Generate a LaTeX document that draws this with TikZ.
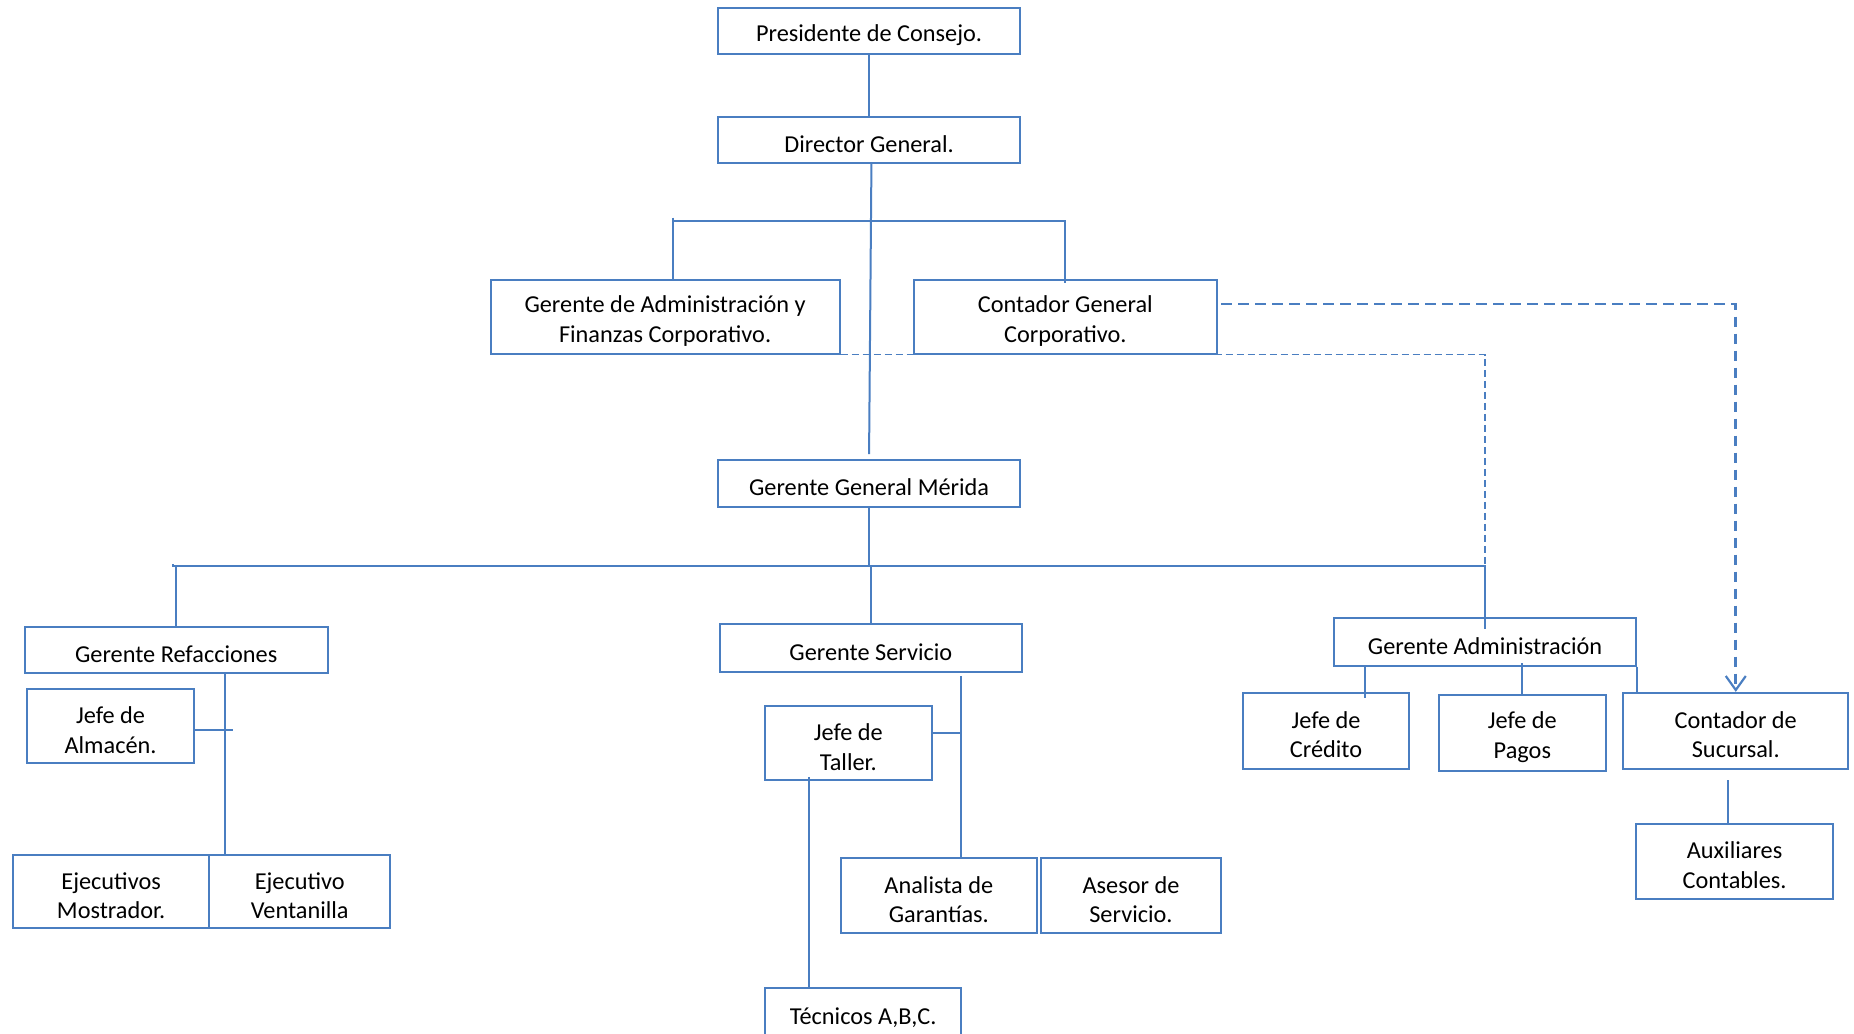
\documentclass[tikz,border=0pt]{standalone}
\usepackage{fontspec}
\setmainfont{Carlito}
\usetikzlibrary{arrows.meta,calc}
\definecolor{orgblue}{RGB}{74,126,193}
% box given by its corners (x1,y1)-(x2,y2); its text sits a little below the middle
\newcommand\orgbox[6]{\node[orgnode, minimum width={(#4-#2)*1.1824pt}, minimum height={(#5-#3)*1.1824pt},
  label={[orgtext]center:#6}] (#1) at ({(#2+#4)/2},{(#3+#5)/2}) {};}
\begin{document}
\begin{tikzpicture}[x=1.1824pt, y=-1.1824pt,
  orgnode/.style={draw=orgblue, line width=2pt, inner sep=0pt},
  orgtext/.style={align=center, inner sep=0pt, yshift=-4pt,
    font=\fontsize{24.3}{29.5}\selectfont},
  link/.style={draw=orgblue, line width=2pt},
  thinlink/.style={draw=orgblue, line width=1.5pt, dash pattern=on 7pt off 4pt},
  thicklink/.style={draw=orgblue, line width=2.6pt, dash pattern=on 10.5pt off 6.5pt}]
\useasboundingbox (0,0) rectangle (1568,874);
\clip (0,0) rectangle (1568,874);

% boxes
\orgbox{pres}{607}{7}{863}{46}{Presidente de Consejo.}
\orgbox{dir}{607}{99}{863}{138}{Director General.}
\orgbox{afc}{415}{237}{710}{299}{Gerente de Administración y\\Finanzas Corporativo.}
\orgbox{cgc}{773}{237}{1029}{299}{Contador General\\Corporativo.}
\orgbox{ggm}{607}{389}{863}{429}{Gerente General Mérida}
\orgbox{grf}{21}{530}{277}{569}{Gerente Refacciones}
\orgbox{alm}{23}{583}{164}{645}{Jefe de\\Almacén.}
\orgbox{emo}{11}{723}{177}{785}{Ejecutivos\\Mostrador.}
\orgbox{eve}{177}{723}{330}{785}{Ejecutivo\\Ventanilla}
\orgbox{gse}{609}{528}{864}{568}{Gerente Servicio}
\orgbox{tal}{647}{597}{788}{660}{Jefe de\\Taller.}
\orgbox{tec}{647}{836}{813}{878}{Técnicos A,B,C.}
\orgbox{ana}{711}{726}{877}{789}{Analista de\\Garantías.}
\orgbox{ase}{880}{726}{1033}{789}{Asesor de\\Servicio.}
\orgbox{gad}{1128}{523}{1384}{563}{Gerente Administración}
\orgbox{cre}{1051}{586}{1192}{650}{Jefe de\\Crédito}
\orgbox{pag}{1217}{588}{1358}{652}{Jefe de\\Pagos}
\orgbox{csu}{1373}{586}{1563}{650}{Contador de\\Sucursal.}
\orgbox{aux}{1384}{697}{1550}{760}{Auxiliares\\Contables.}

% junction points
\coordinate (barA) at (569,187);
\coordinate (barB) at (146,479);
\coordinate (refV) at (190,569);
\coordinate (serV) at (813,572);
\coordinate (cgcR) at (1033,257);

% upper levels
\draw[link] (pres.south) -- (dir.north);
\draw[link] ($(dir.south)+(2,0)$) -- ($(ggm.north)+(0,-4)$);
\draw[link] ($(barA)+(0,-3)$) -- (barA) -- (barA -| cgc.north) -- ($(cgc.north)+(0,3)$);
\draw[link] (barA) -- (barA |- afc.north);

% dashed reporting lines
\draw[thinlink] (afc.south east) -- (gad.north |- afc.south) -- (gad.north |- barB);
\draw[thicklink, -{Straight Barb[length=14pt,width=20pt,line width=2.2pt]}]
  (cgcR) -- (cgcR -| csu.north) -- (csu.north);

% Gerente General Mérida and its three areas
\draw[link] (ggm.south) -- (ggm.south |- barB);
\draw[link] ($(barB)+(0,-2)$) -- (barB) -- (barB -| gad.north) -- ($(gad.north)+(0,10)$);
\draw[link] (barB -| grf.north) -- (grf.north);
\draw[link] (barB -| gse.north) -- (gse.north);

% Refacciones
\draw[link] (refV) -- (refV |- eve.north);
\draw[link] ($(alm.east)+(0,3)$) -- ($(alm.east)+(32,3)$);

% Servicio
\draw[link] (serV) -- (serV |- ana.north);
\draw[link] ($(tal.east)+(0,-8.5)$) -- ($(tal.east)+(25,-8.5)$);
\draw[link] (684,657) -- (684,0 |- tec.north);

% Administración
\draw[link] (1154,0 |- gad.south) -- (1154,590);
\draw[link] (pag.north |- 0,561) -- (pag.north);
\draw[link] (gad.south east) -- (gad.south east |- csu.north);
\draw[link] (1461,660) -- (1461,0 |- aux.north);
\end{tikzpicture}
\end{document}
